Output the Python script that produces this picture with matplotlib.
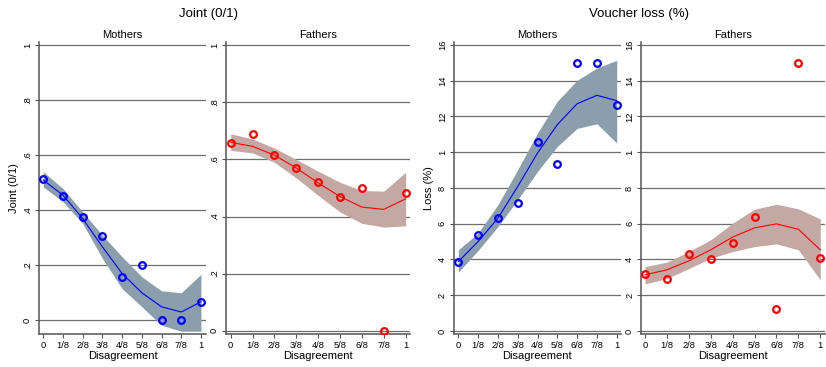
import numpy as np
import matplotlib
matplotlib.use('Agg')
import matplotlib.pyplot as plt

plt.rcParams['font.family'] = ['Liberation Sans', 'DejaVu Sans']

# x positions (share of disagreement)
x = [0, 1/8, 2/8, 3/8, 4/8, 5/8, 6/8, 7/8, 1]
x_labels = ['0', '1/8', '2/8', '3/8', '4/8', '5/8', '6/8', '7/8', '1']

# Joint (0/1) - mothers
joint_m_pts = [0.512, 0.453, 0.374, 0.305, 0.159, 0.200, 0.0, 0.0, 0.067]
joint_m_fit = [0.51, 0.455, 0.37, 0.267, 0.17, 0.10, 0.049, 0.03, 0.067]
joint_m_hi = [0.54, 0.479, 0.394, 0.309, 0.231, 0.158, 0.107, 0.10, 0.167]
joint_m_lo = [0.485, 0.431, 0.352, 0.225, 0.115, 0.049, -0.018, -0.04, -0.04]

# Joint (0/1) - fathers
joint_f_pts = [0.658, 0.691, 0.615, 0.570, 0.521, 0.470, 0.501, 0.0, 0.484]
joint_f_fit = [0.66, 0.646, 0.615, 0.570, 0.518, 0.47, 0.433, 0.425, 0.462]
joint_f_hi = [0.690, 0.672, 0.640, 0.600, 0.559, 0.520, 0.491, 0.489, 0.555]
joint_f_lo = [0.632, 0.623, 0.590, 0.535, 0.474, 0.416, 0.376, 0.363, 0.367]

# Voucher loss (%) - mothers
loss_m_pts = [3.88, 5.36, 6.31, 7.15, 10.57, 9.35, 14.99, 15.0, 12.64]
loss_m_fit = [3.88, 5.0, 6.31, 8.08, 9.95, 11.54, 12.71, 13.18, 12.88]
loss_m_hi = [4.54, 5.47, 7.06, 9.02, 11.07, 12.85, 14.02, 14.71, 15.14]
loss_m_lo = [3.29, 4.5, 5.84, 7.34, 8.92, 10.32, 11.33, 11.59, 10.51]

# Voucher loss (%) - fathers
loss_f_pts = [3.17, 2.89, 4.28, 4.0, 4.91, 6.37, 1.23, 15.0, 4.07]
loss_f_fit = [3.14, 3.42, 3.92, 4.54, 5.25, 5.77, 5.99, 5.69, 4.54]
loss_f_hi = [3.60, 3.85, 4.44, 5.10, 6.03, 6.81, 7.09, 6.83, 6.27]
loss_f_lo = [2.63, 2.93, 3.49, 4.07, 4.44, 4.72, 4.87, 4.54, 2.86]

joint_ticks = [0, 0.2, 0.4, 0.6, 0.8, 1]
joint_tlabels = ['0', '.2', '.4', '.6', '.8', '1']
loss_ticks = [0, 2, 4, 6, 8, 10, 12, 14, 16]
loss_tlabels = ['0', '2', '4', '6', '8', '1', '12', '14', '16']

W, H = 826, 367
fig = plt.figure(figsize=(W / 100, H / 100), dpi=100)
fig.patch.set_facecolor('white')


def make_ax(l, r, t, b):
    return fig.add_axes([l / W, 1 - b / H, (r - l) / W, (b - t) / H])


panels = [
    # (pixel box, xlim, ylim, data, colours, ticks, ylabel, subtitle)
    ((39, 206, 41.7, 334), (-0.027, 1.032), (-0.05, 1.013),
     (joint_m_pts, joint_m_fit, joint_m_hi, joint_m_lo), ('blue', '#8a9fab'),
     (joint_ticks, joint_tlabels), 'Joint (0/1)', 'Mothers'),
    ((226, 410, 41.7, 334), (-0.027, 1.025), (-0.012, 1.013),
     (joint_f_pts, joint_f_fit, joint_f_hi, joint_f_lo), ('red', '#c4a8a3'),
     (joint_ticks, joint_tlabels), None, 'Fathers'),
    ((453.7, 621, 41.7, 334), (-0.029, 1.027), (-0.17, 16.18),
     (loss_m_pts, loss_m_fit, loss_m_hi, loss_m_lo), ('blue', '#8a9fab'),
     (loss_ticks, loss_tlabels), 'Loss (%)', 'Mothers'),
    ((641, 825, 41.7, 334), (-0.023, 1.027), (-0.17, 16.18),
     (loss_f_pts, loss_f_fit, loss_f_hi, loss_f_lo), ('red', '#c4a8a3'),
     (loss_ticks, loss_tlabels), None, 'Fathers'),
]

for box, xl, yl, d, cols, tk, ylab, sub in panels:
    ax = make_ax(*box)
    pts, fit, hi, lo = d
    lc, bc = cols
    ax.fill_between(x, lo, hi, color=bc, lw=0, zorder=1)
    ax.plot(x, fit, color=lc, lw=0.8, zorder=2)
    ax.plot(x, pts, 'o', mfc='none', mec=lc, mew=1.6, ms=4.8, zorder=3)
    ax.set_xlim(*xl)
    ax.set_ylim(*yl)
    ax.set_xticks(x)
    ax.set_xticklabels(x_labels, fontsize=6.7)
    ax.set_yticks(tk[0])
    ax.set_yticklabels(tk[1], fontsize=6.7, rotation=90, va='center')
    for v in tk[0]:
        ax.axhline(v, color='#6e6e6e', lw=0.9, zorder=0)
    for s in ['top', 'right']:
        ax.spines[s].set_visible(False)
    for s in ['left', 'bottom']:
        ax.spines[s].set_color('#555555')
        ax.spines[s].set_linewidth(1.1)
    ax.tick_params(axis='both', length=3, width=0.8, color='#555555', pad=2)
    ax.set_xlabel('Disagreement', fontsize=8, labelpad=1)
    if ylab:
        ax.set_ylabel(ylab, fontsize=8, labelpad=3)
    ax.set_title(sub, fontsize=8, pad=3)

fig.text(209 / W, 1 - 14 / H, 'Joint (0/1)', fontsize=9.5, ha='center', va='center')
fig.text(639 / W, 1 - 14 / H, 'Voucher loss (%)', fontsize=9.5, ha='center', va='center')

fig.savefig('out.png', dpi=100)
